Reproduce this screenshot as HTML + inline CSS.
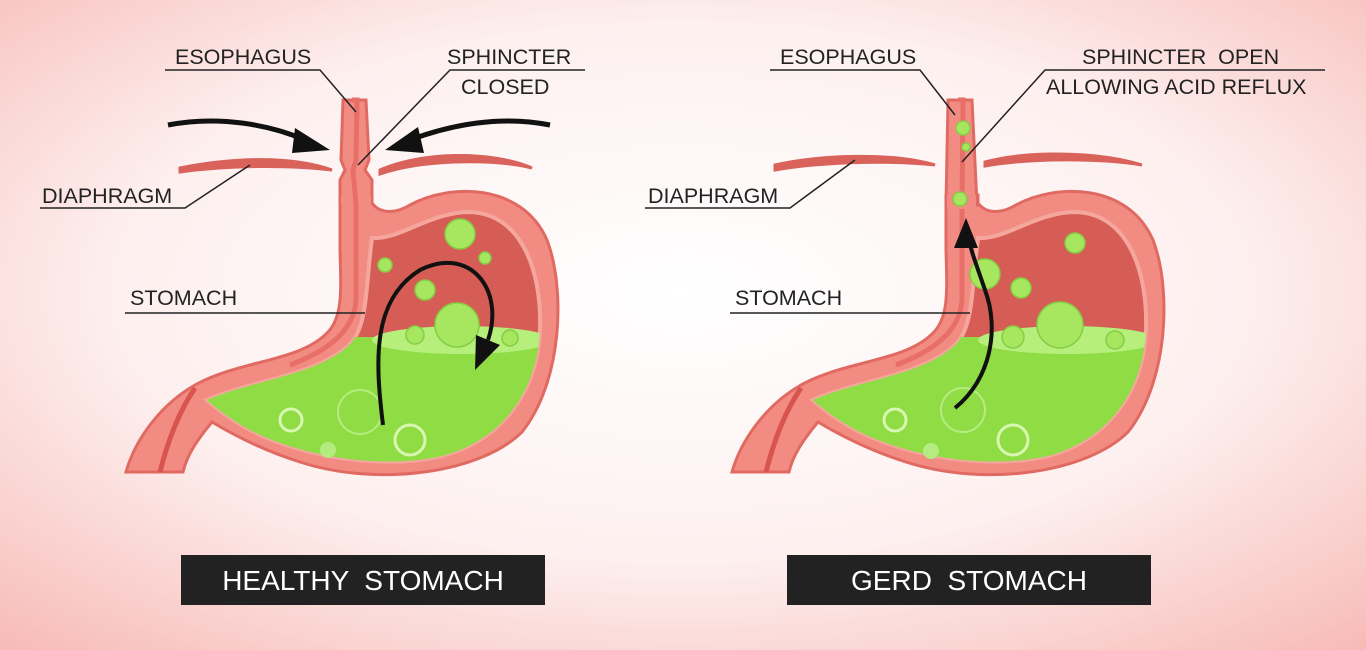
<!DOCTYPE html>
<html><head><meta charset="utf-8"><style>
html,body{margin:0;padding:0;width:1366px;height:650px;overflow:hidden}
svg{display:block}
text{font-family:"Liberation Sans",sans-serif;fill:#222}
</style></head><body>
<svg width="1366" height="650" viewBox="0 0 1366 650" xmlns="http://www.w3.org/2000/svg">
<defs>
<radialGradient id="bg" cx="50%" cy="45%" r="75%">
<stop offset="0" stop-color="#ffffff"/><stop offset="0.55" stop-color="#fdf0ef"/><stop offset="1" stop-color="#f7b9b5"/>
</radialGradient>
<clipPath id="lum"><path d="M372,238 C400,240 430,212 470,212 C520,214 542,268 540,330 C537,392 502,440 442,456 C380,470 300,456 250,430 C232,420 218,410 207,400 C252,380 322,375 352,342 C368,322 366,282 372,238 Z"/></clipPath>
<g id="stomachBody">
<path d="M372,203 C380,214 395,214 410,205 C450,183 522,183 547,240 C566,290 562,382 522,432 C482,472 380,488 300,462 C262,450 232,434 212,422 C197,440 187,455 183,472 L126,472 C135,440 160,405 195,385 C240,360 300,362 328,332 C343,316 341,290 340,250 L340,195 L372,195 Z" fill="#f28c82" stroke="#e06a62" stroke-width="3"/>
<path d="M356,195 L356,300 C354,330 330,350 290,365" fill="none" stroke="#e86f68" stroke-width="5"/>
<path d="M372,238 C400,240 430,212 470,212 C520,214 542,268 540,330 C537,392 502,440 442,456 C380,470 300,456 250,430 C232,420 218,410 207,400 C252,380 322,375 352,342 C368,322 366,282 372,238 Z" fill="#d65d55" stroke="#f5a79e" stroke-width="4"/>
<g clip-path="url(#lum)">
<rect x="150" y="337" width="420" height="200" fill="#8fdc45"/>
<ellipse cx="462" cy="340" rx="90" ry="14" fill="#b6ef7c"/>
</g>
<path d="M195,388 C180,410 168,440 160,472" fill="none" stroke="#d8554f" stroke-width="5"/>
</g>
</defs>
<rect width="1366" height="650" fill="url(#bg)"/>

<!-- LEFT -->
<path d="M180,168 C230,158 290,155 332,170 C290,165 230,165 180,172 Z" fill="#d9625b" stroke="#d9625b" stroke-width="3"/>
<path d="M380,170 C420,152 490,150 532,168 C490,158 420,160 380,174 Z" fill="#d9625b" stroke="#d9625b" stroke-width="3"/>
<use href="#stomachBody"/>
<path d="M343,100 L366,100 L369,160 L365,170 L372,180 L372,200 L340,200 L340,180 L345,170 L341,160 Z" fill="#f28c82" stroke="#e06a62" stroke-width="3"/>
<rect x="341" y="195" width="30" height="10" fill="#f28c82"/>
<path d="M352,100 L357,100 L356,160 L353,170 L356,205" fill="none" stroke="#e86f68" stroke-width="5"/>
<g fill="#a6e75f" stroke="#86cc44" stroke-width="1.5">
<circle cx="460" cy="234" r="15"/><circle cx="485" cy="258" r="6"/><circle cx="385" cy="265" r="7"/><circle cx="425" cy="290" r="10"/><circle cx="457" cy="325" r="22"/><circle cx="415" cy="335" r="9"/><circle cx="510" cy="338" r="8"/>
</g>
<g fill="none" stroke="#d8f7b0" stroke-width="3"><circle cx="291" cy="420" r="11"/><circle cx="410" cy="440" r="15"/><circle cx="360" cy="412" r="22" stroke="#b5ec80" stroke-width="2"/></g>
<circle cx="328" cy="450" r="8" fill="#b5ec80"/>
<path d="M168,125 C220,115 270,125 305,140" fill="none" stroke="#111" stroke-width="5"/>
<polygon points="295,128 330,150 292,153" fill="#111"/>
<path d="M550,125 C500,115 450,125 410,140" fill="none" stroke="#111" stroke-width="5"/>
<polygon points="418,127 385,150 424,153" fill="#111"/>
<path d="M383,425 C375,360 372,300 420,270 C470,245 505,290 488,340" fill="none" stroke="#111" stroke-width="4"/>
<polygon points="476,335 500,345 475,370" fill="#111"/>
<g font-size="21.5">
<text x="175" y="64">ESOPHAGUS</text>
<text x="447" y="64">SPHINCTER</text>
<text x="461" y="94">CLOSED</text>
<text x="42" y="203">DIAPHRAGM</text>
<text x="130" y="305">STOMACH</text>
</g>
<g stroke="#222" stroke-width="1.5" fill="none">
<polyline points="165,70 320,70 356,112"/>
<polyline points="585,70 450,70 358,165"/>
<polyline points="40,208 185,208 250,165"/>
<polyline points="125,313 365,313"/>
</g>
<rect x="181" y="555" width="364" height="50" fill="#222"/>
<text x="363" y="590" font-size="28" text-anchor="middle" style="fill:#fff" xml:space="preserve">HEALTHY  STOMACH</text>

<!-- RIGHT -->
<path d="M775,165 C820,155 890,152 935,165 C890,160 820,162 775,170 Z" fill="#d9625b" stroke="#d9625b" stroke-width="3"/>
<path d="M985,162 C1030,150 1100,152 1142,165 C1100,158 1030,158 985,166 Z" fill="#d9625b" stroke="#d9625b" stroke-width="3"/>
<g transform="translate(606,0)"><use href="#stomachBody"/></g>
<path d="M948,100 L972,100 L977,205 L946,205 Z" fill="#f28c82" stroke="#e06a62" stroke-width="3"/>
<rect x="947" y="195" width="29" height="14" fill="#f28c82"/>
<path d="M958,100 L963,100 L962,205" fill="none" stroke="#e86f68" stroke-width="5"/>
<g fill="#a6e75f" stroke="#86cc44" stroke-width="1.5">
<circle cx="963" cy="128" r="7"/><circle cx="966" cy="147" r="4"/><circle cx="960" cy="199" r="7"/>
<circle cx="1075" cy="243" r="10"/><circle cx="985" cy="274" r="15"/><circle cx="1021" cy="288" r="10"/><circle cx="1060" cy="325" r="23"/><circle cx="1013" cy="337" r="11"/><circle cx="1115" cy="340" r="9"/>
</g>
<g fill="none" stroke="#d8f7b0" stroke-width="3"><circle cx="895" cy="420" r="11"/><circle cx="1013" cy="440" r="15"/><circle cx="963" cy="410" r="22" stroke="#b5ec80" stroke-width="2"/></g>
<circle cx="931" cy="451" r="8" fill="#b5ec80"/>
<path d="M955,408 C990,380 1000,330 985,290 C975,260 968,245 967,225" fill="none" stroke="#111" stroke-width="4"/>
<polygon points="954,248 966,218 978,248" fill="#111"/>
<g font-size="21.5">
<text x="780" y="64">ESOPHAGUS</text>
<text x="1082" y="64" xml:space="preserve">SPHINCTER  OPEN</text>
<text x="1046" y="94">ALLOWING ACID REFLUX</text>
<text x="648" y="203">DIAPHRAGM</text>
<text x="735" y="305">STOMACH</text>
</g>
<g stroke="#222" stroke-width="1.5" fill="none">
<polyline points="770,70 920,70 955,115"/>
<polyline points="1325,70 1045,70 962,162"/>
<polyline points="645,208 790,208 855,160"/>
<polyline points="730,313 970,313"/>
</g>
<rect x="787" y="555" width="364" height="50" fill="#222"/>
<text x="969" y="590" font-size="28" text-anchor="middle" style="fill:#fff" xml:space="preserve">GERD  STOMACH</text>
</svg>
</body></html>
